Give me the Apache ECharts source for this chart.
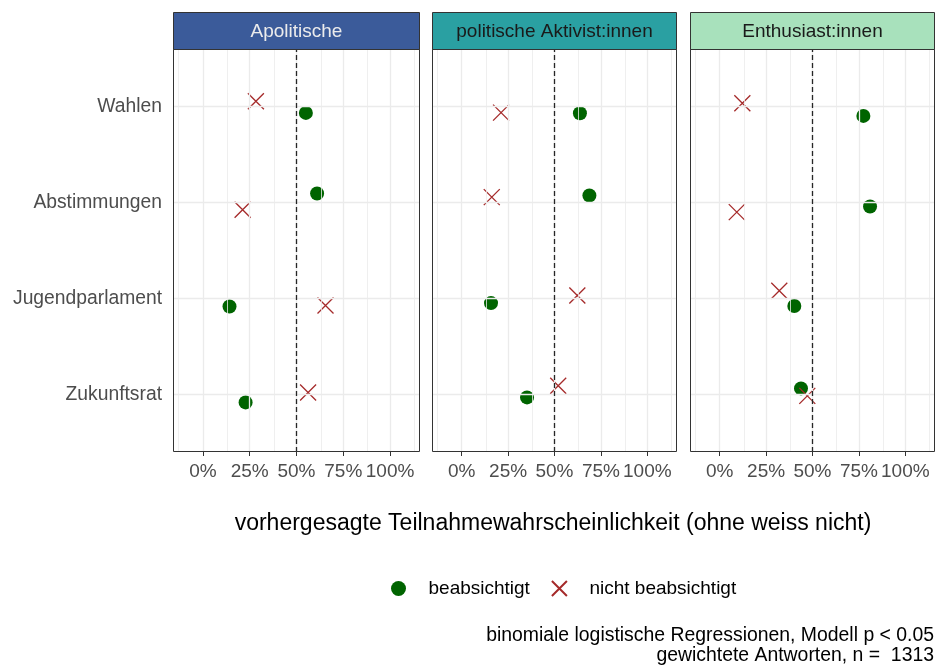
<!DOCTYPE html>
<html>
<head>
<meta charset="utf-8">
<script src="https://cdn.jsdelivr.net/npm/echarts@6/dist/echarts.min.js"></script>
<style>
  html, body { margin: 0; padding: 0; background: #ffffff; }
  #chart { width: 936px; height: 668px; }
</style>
</head>
<body>
<div id="chart"></div>
<script>
// Categories (top to bottom) and facet groups
const categories = ['Wahlen', 'Abstimmungen', 'Jugendparlament', 'Zukunftsrat'];
const groups = ['Apolitische', 'politische Aktivist:innen', 'Enthusiast:innen'];

// Predicted participation probability, "beabsichtigt" (per group, per category)
const beabApolitische = [0.550, 0.610, 0.142, 0.228];
const beabAktivist    = [0.637, 0.688, 0.158, 0.352];
const beabEnthusiast  = [0.774, 0.810, 0.402, 0.438];

// Predicted participation probability, "nicht beabsichtigt"
const nichtApolitische = [0.283, 0.212, 0.655, 0.562];
const nichtAktivist    = [0.212, 0.162, 0.623, 0.520];
const nichtEnthusiast  = [0.122, 0.092, 0.321, 0.472];

// Vertical jitter of each point (in category units, positive = up)
const jitBeabApolitische = [-0.066, 0.094, -0.083, -0.083];
const jitBeabAktivist    = [-0.069, 0.073, -0.048, -0.031];
const jitBeabEnthusiast  = [-0.097, -0.042, -0.079, 0.063];
const jitNichtApolitische = [0.056, -0.076, -0.073, 0.020];
const jitNichtAktivist    = [-0.063, 0.056, 0.031, 0.090];
const jitNichtEnthusiast  = [0.035, -0.100, 0.080, -0.015];

// Axis breaks
const xBreaks = [0, 0.25, 0.5, 0.75, 1];
const xMinorBreaks = [-0.125, 0.125, 0.375, 0.625, 0.875, 1.125];
const referenceLine = 0.5;

const beab = [beabApolitische, beabAktivist, beabEnthusiast];
const nicht = [nichtApolitische, nichtAktivist, nichtEnthusiast];
const jitBeab = [jitBeabApolitische, jitBeabAktivist, jitBeabEnthusiast];
const jitNicht = [jitNichtApolitische, jitNichtAktivist, jitNichtEnthusiast];

const catPos = categories.map((c, i) => categories.length - i);   // Wahlen = 4 ... Zukunftsrat = 1
const catName = v => categories[categories.length - v];

const FONT = '"Liberation Sans", Arial, sans-serif';
const stripFill = ['#3b5b9a', '#2aa0a2', '#a8e1bc'];
const stripText = ['#ececec', '#1a1a1a', '#1a1a1a'];
const panelLayout = [
  { left: 173, width: 247 },
  { left: 432, width: 245 },
  { left: 690, width: 245 }
];
const PANEL_TOP = 49, PANEL_H = 403, STRIP_TOP = 12, STRIP_H = 37;

// Cross marker drawn as two stroked diagonals
const crossPath = 'path://M0,0L20,20M20,0L0,20';
const crossStyle = { color: 'rgba(0,0,0,0)', borderColor: '#a52a2a', borderWidth: 1.3, opacity: 1 };

const grid = [], xAxis = [], yAxis = [], series = [], graphic = [];

groups.forEach((g, i) => {
  const L = panelLayout[i];
  grid.push({ left: L.left, top: PANEL_TOP, width: L.width, height: PANEL_H, show: false });
  xAxis.push({
    type: 'value', gridIndex: i, min: -0.16, max: 1.16,
    axisLine: { show: false },
    splitLine: { show: false },
    axisTick: { show: true, customValues: xBreaks, length: 4, lineStyle: { color: '#333333', width: 1 } },
    axisLabel: {
      customValues: xBreaks, margin: 10, color: '#4d4d4d', fontSize: 19, fontFamily: FONT,
      formatter: v => Math.round(v * 100) + '%'
    }
  });
  yAxis.push({
    type: 'value', gridIndex: i, min: 0.4, max: 4.6,
    axisLine: { show: false },
    splitLine: { show: false },
    axisTick: { show: i === 0, customValues: catPos, length: 4, lineStyle: { color: '#333333', width: 1 } },
    axisLabel: {
      show: i === 0, customValues: catPos, margin: 11, color: '#4d4d4d', fontSize: 19.3, fontFamily: FONT,
      formatter: v => catName(v)
    }
  });

  // Background grid lines and the 50% reference line
  const gridLines = [];
  xMinorBreaks.forEach(v => gridLines.push({ xAxis: v, lineStyle: { color: '#ebebeb', width: 0.8, type: 'solid' } }));
  xBreaks.forEach(v => gridLines.push({ xAxis: v, lineStyle: { color: '#ebebeb', width: 1.3, type: 'solid' } }));
  catPos.forEach(v => gridLines.push({ yAxis: v, lineStyle: { color: '#ebebeb', width: 1.3, type: 'solid' } }));
  series.push({
    type: 'scatter', xAxisIndex: i, yAxisIndex: i, data: [], silent: true, z: 1,
    markLine: { silent: true, symbol: ['none', 'none'], label: { show: false }, animation: false, data: gridLines }
  });
  series.push({
    type: 'scatter', xAxisIndex: i, yAxisIndex: i, data: [], silent: true, z: 2,
    markLine: {
      silent: true, symbol: ['none', 'none'], label: { show: false }, animation: false,
      data: [{ xAxis: referenceLine, lineStyle: { color: '#262626', width: 1.3, type: [5, 3] } }]
    }
  });

  series.push({
    name: 'beabsichtigt', type: 'scatter', xAxisIndex: i, yAxisIndex: i, z: 3,
    symbol: 'circle', symbolSize: 14,
    itemStyle: { color: '#006400', opacity: 1 },
    data: beab[i].map((v, k) => [v, catPos[k] + jitBeab[i][k]])
  });
  series.push({
    name: 'nicht beabsichtigt', type: 'scatter', xAxisIndex: i, yAxisIndex: i, z: 4,
    symbol: crossPath, symbolSize: 16,
    itemStyle: crossStyle,
    data: nicht[i].map((v, k) => [v, catPos[k] + jitNicht[i][k]])
  });

  // Facet strip and panel frame
  graphic.push({
    type: 'rect', z: 50, silent: true,
    shape: { x: L.left + 0.5, y: STRIP_TOP + 0.5, width: L.width - 1, height: STRIP_H },
    style: { fill: stripFill[i], stroke: '#333333', lineWidth: 1 }
  });
  graphic.push({
    type: 'text', z: 51, silent: true,
    x: L.left + L.width / 2, y: STRIP_TOP + STRIP_H / 2 + 1.5,
    style: { text: g, fill: stripText[i], font: '19px ' + FONT, textAlign: 'center', textVerticalAlign: 'middle' }
  });
  graphic.push({
    type: 'rect', z: 50, silent: true,
    shape: { x: L.left + 0.5, y: PANEL_TOP + 0.5, width: L.width - 1, height: PANEL_H - 1 },
    style: { fill: 'none', stroke: '#333333', lineWidth: 1 }
  });
});

// Axis title and caption
graphic.push({
  type: 'text', z: 51, silent: true, x: 553, y: 524,
  style: { text: 'vorhergesagte Teilnahmewahrscheinlichkeit (ohne weiss nicht)', fill: '#000000',
           font: '23px ' + FONT, textAlign: 'center', textVerticalAlign: 'middle' }
});
graphic.push({
  type: 'text', z: 51, silent: true, x: 934, y: 636,
  style: { text: 'binomiale logistische Regressionen, Modell p < 0.05', fill: '#000000',
           font: '19.4px ' + FONT, textAlign: 'right', textVerticalAlign: 'middle' }
});
graphic.push({
  type: 'text', z: 51, silent: true, x: 934, y: 656,
  style: { text: 'gewichtete Antworten, n =  1313', fill: '#000000',
           font: '19.4px ' + FONT, textAlign: 'right', textVerticalAlign: 'middle' }
});

const chart = echarts.init(document.getElementById('chart'), null, { renderer: 'canvas' });
chart.setOption({
  animation: false,
  backgroundColor: '#ffffff',
  textStyle: { fontFamily: FONT },
  grid, xAxis, yAxis, series, graphic,
  legend: {
    data: ['beabsichtigt', 'nicht beabsichtigt'],
    left: 386, top: 574,
    itemWidth: 20, itemHeight: 15, itemGap: 21,
    selectedMode: false,
    textStyle: { fontSize: 19, color: '#000000', fontFamily: FONT, padding: [0, 0, 0, 15] }
  }
});
</script>
</body>
</html>
